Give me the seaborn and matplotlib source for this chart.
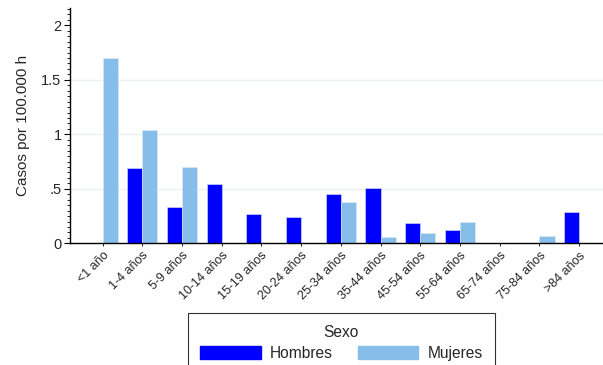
import numpy as np
import pandas as pd
import matplotlib
matplotlib.use("Agg")
import matplotlib.pyplot as plt
from matplotlib.patches import Patch
from matplotlib.ticker import MultipleLocator, FixedLocator
import seaborn as sns

# Age groups and incidence rates (cases per 100,000 inhabitants)
grupos = ["<1 año", "1-4 años", "5-9 años", "10-14 años", "15-19 años",
          "20-24 años", "25-34 años", "35-44 años", "45-54 años",
          "55-64 años", "65-74 años", "75-84 años", ">84 años"]
hombres = [np.nan, 0.69, 0.335, 0.545, 0.272, 0.242, 0.455, 0.51, 0.186,
           0.125, np.nan, np.nan, 0.284]
mujeres = [1.70, 1.037, 0.703, np.nan, np.nan, np.nan, 0.382, 0.055, 0.094,
           0.195, np.nan, 0.064, np.nan]
sexos = ["Hombres", "Mujeres"]
colores = ["#0000ff", "#86bee9"]
yticks = [0, 0.5, 1, 1.5, 2]
yticklabels = ["0", ".5", "1", "1.5", "2"]

df = pd.DataFrame({
    "grupo": grupos * 2,
    "sexo": ["Hombres"] * len(grupos) + ["Mujeres"] * len(grupos),
    "tasa": hombres + mujeres,
})

sns.set_theme(style="white")
plt.rcParams["font.family"] = ["Liberation Sans", "DejaVu Sans"]

fig = plt.figure(figsize=(6.03, 3.65), dpi=100)
ax = fig.add_axes([0.116, 0.3334, 0.884, 0.6438])

sns.barplot(data=df, x="grupo", y="tasa", hue="sexo", order=grupos,
            hue_order=sexos, palette=colores, width=0.76, gap=0,
            edgecolor="#dce9f5", linewidth=0.4, saturation=1,
            legend=False, ax=ax)

ax.set_xlim(-0.82, 12.6)
ax.set_ylim(0, 2.156)
for y in yticks[1:-1]:
    ax.axhline(y, color="#eaf1f4", lw=1.0, zorder=0)

ax.yaxis.set_major_locator(FixedLocator(yticks))
ax.set_yticklabels(yticklabels)
ax.yaxis.set_minor_locator(MultipleLocator(0.05))
ax.tick_params(axis="y", which="major", length=4, width=0.8, color="black",
               labelsize=10.5, pad=2, left=True)
ax.tick_params(axis="y", which="minor", length=2.5, width=0.6, color="black",
               left=True)
ax.tick_params(axis="x", which="major", length=2.5, width=0.6, color="black",
               labelsize=9, pad=2, bottom=True)
plt.setp(ax.get_xticklabels(), rotation=45, ha="right",
         rotation_mode="anchor")

ax.set_xlabel("")
ax.set_ylabel("Casos por 100.000 h", fontsize=11, labelpad=8)

for s in ["top", "right"]:
    ax.spines[s].set_visible(False)
for s in ["left", "bottom"]:
    ax.spines[s].set_color("black")
    ax.spines[s].set_linewidth(1.0)

handles = [Patch(facecolor=c, edgecolor=c) for c in colores]
leg = fig.legend(handles, sexos, title="Sexo", ncol=2, loc="upper center",
                 bbox_to_anchor=(0.566, 1 - 313 / 365), borderaxespad=0,
                 fontsize=11.2, title_fontsize=11.2, frameon=True,
                 fancybox=False, edgecolor="black", handlelength=3.9,
                 handleheight=0.95, handletextpad=0.6, columnspacing=1.6,
                 borderpad=0.78, labelspacing=0.35)
leg.get_frame().set_linewidth(0.8)

fig.savefig("out.png", dpi=100)
